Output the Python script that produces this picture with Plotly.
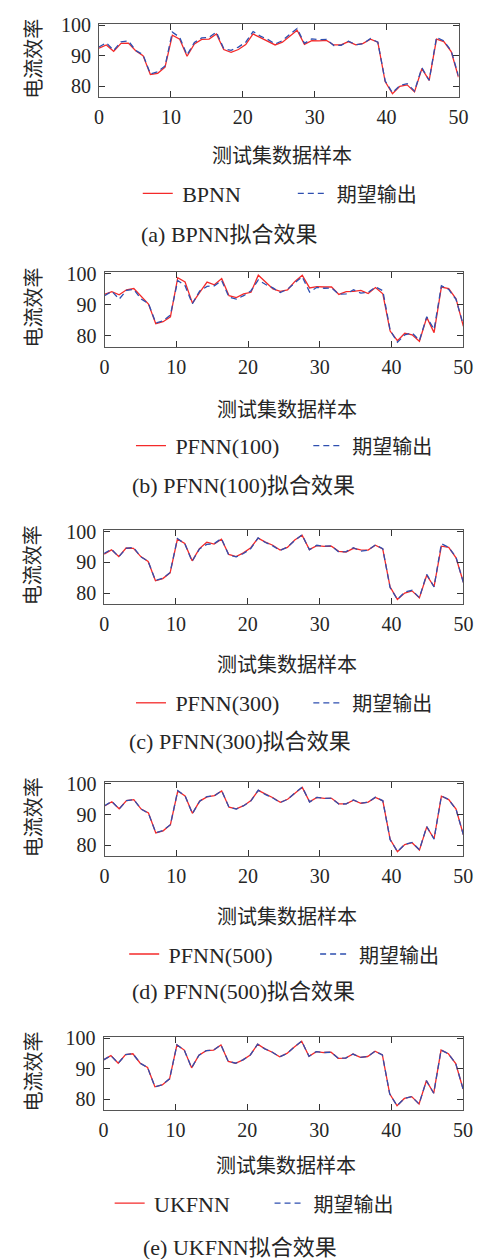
import numpy as np
import plotly.graph_objects as go

# ---------------- data ----------------
sample_x = np.linspace(0, 50, 50)  # 50 test samples plotted across 0..50

expected = [92.9, 94.3, 91.8, 94.6, 94.9, 91.8, 90.4, 84.1, 84.8, 86.7,
            97.8, 96.1, 90.3, 94.4, 95.9, 96.1, 97.8, 92.4, 91.8, 92.9,
            94.5, 98.0, 96.5, 95.4, 93.9, 95.0, 97.1, 99.0, 94.1, 95.6,
            95.3, 95.4, 93.4, 93.5, 94.8, 93.7, 94.0, 95.7, 94.5, 81.8,
            77.9, 80.3, 80.9, 78.5, 86.1, 82.0, 96.1, 94.9, 91.7, 83.4]

bpnn = [92.5, 93.6, 91.5, 94.1, 94.2, 91.7, 90.1, 83.9, 84.3, 86.3,
        96.8, 95.5, 89.9, 93.9, 95.4, 95.5, 97.2, 92.1, 91.2, 92.1,
        93.7, 97.2, 96.0, 94.9, 93.6, 94.5, 96.6, 98.4, 93.8, 95.0,
        94.9, 95.1, 93.6, 93.6, 94.7, 93.6, 94.1, 95.5, 94.5, 81.6,
        77.6, 80.0, 80.5, 78.2, 85.8, 82.0, 95.5, 94.7, 91.4, 83.0]

pfnn100 = [93.3, 94.2, 93.2, 94.8, 95.2, 92.7, 90.2, 83.9, 84.5, 86.1,
           98.7, 97.3, 90.5, 94.0, 97.3, 96.4, 98.4, 92.9, 92.3, 93.5,
           94.0, 99.5, 97.3, 95.1, 94.3, 94.8, 97.5, 99.5, 95.4, 95.8,
           95.7, 95.7, 93.3, 94.2, 94.3, 94.6, 93.6, 95.5, 93.5, 81.5,
           78.4, 80.8, 80.3, 78.2, 85.9, 81.0, 95.7, 95.2, 91.9, 83.0]

pfnn300 = [92.7, 94.1, 91.9, 94.7, 94.6, 91.9, 90.3, 84.0, 84.7, 86.6,
           97.6, 96.2, 90.5, 94.5, 96.6, 96.0, 97.6, 92.6, 91.9, 93.1,
           94.8, 97.9, 96.6, 95.6, 94.0, 94.9, 97.3, 98.9, 94.2, 95.5,
           95.2, 95.3, 93.6, 93.4, 94.6, 94.1, 94.0, 95.6, 94.4, 82.0,
           77.9, 80.0, 80.7, 78.4, 85.8, 82.1, 95.3, 94.9, 91.5, 83.5]

pfnn500 = [92.8, 94.2, 91.9, 94.6, 94.9, 91.8, 90.5, 84.0, 84.7, 86.7,
           97.7, 96.1, 90.4, 94.4, 95.8, 96.2, 97.7, 92.4, 91.9, 92.9,
           94.6, 97.9, 96.7, 95.5, 94.0, 95.0, 97.0, 98.9, 94.2, 95.6,
           95.3, 95.3, 93.5, 93.5, 94.7, 93.7, 94.1, 95.6, 94.5, 81.9,
           77.9, 80.2, 80.8, 78.4, 86.0, 82.1, 96.0, 94.9, 91.8, 83.4]

ukfnn = [92.9, 94.3, 91.8, 94.6, 94.9, 91.8, 90.4, 84.1, 84.7, 86.7,
         97.8, 96.1, 90.3, 94.4, 95.9, 96.1, 97.8, 92.4, 91.8, 92.9,
         94.5, 98.0, 96.5, 95.4, 93.9, 95.0, 97.1, 99.0, 94.1, 95.6,
         95.3, 95.4, 93.4, 93.5, 94.8, 93.7, 94.0, 95.7, 94.5, 81.8,
         77.9, 80.3, 80.9, 78.5, 86.1, 82.0, 96.1, 94.9, 91.7, 83.4]

model_names = ["BPNN", "PFNN(100)", "PFNN(300)", "PFNN(500)", "UKFNN"]
model_values = [bpnn, pfnn100, pfnn300, pfnn500, ukfnn]
captions = ["(a) BPNN拟合效果", "(b) PFNN(100)拟合效果", "(c) PFNN(300)拟合效果",
            "(d) PFNN(500)拟合效果", "(e) UKFNN拟合效果"]
expected_name = "期望输出"
x_title = "测试集数据样本"
y_title = "电流效率"
x_ticks = [0, 10, 20, 30, 40, 50]
y_ticks = [80, 90, 100]

# ---------------- layout (pixel positions) ----------------
W, H = 485, 1259
# plot frames: (left, right, top, bottom)
frames = [(97, 468, 15, 88.7),
          (102.7, 473, 265, 340),
          (102.3, 473, 525, 599),
          (102.7, 473, 779, 853),
          (101.7, 472.7, 1035, 1109)]
xtitle_y = [147, 402, 659, 913, 1164]
legend_y = [186, 440, 699, 952, 1203]
legend_red_x = [142, 135, 135, 128, 113]
legend_blue_x = [302, 318, 318, 325, 278]
caption_pos = [(232, 227), (246, 480), (243, 738), (246, 990), (242, 1247)]

RED = "#f42a2a"
BLUE = "#2e4fb0"
SERIF = "Liberation Serif, Times New Roman, Noto Sans CJK SC"
TXT = "#262626"
LEG_OFFSET = 5   # distance from legend box edge to start of the line sample


def px_x(p):
    return p / W


def px_y(p):
    return 1 - p / H


fig = go.Figure()
annotations = []
layout = dict(width=W, height=H, margin=dict(l=0, r=0, t=0, b=0),
              paper_bgcolor="white", plot_bgcolor="white", showlegend=True,
              font=dict(family=SERIF, color=TXT))

for i in range(5):
    n = "" if i == 0 else str(i + 1)
    lg_red = "legend" if i == 0 else "legend" + str(2 * i + 1)
    lg_blue = "legend" + str(2 * i + 2)
    fig.add_trace(go.Scatter(x=sample_x, y=model_values[i], mode="lines",
                             name="\u2009" + model_names[i],
                             line=dict(color=RED, width=1.3),
                             xaxis="x" + n, yaxis="y" + n, legend=lg_red))
    fig.add_trace(go.Scatter(x=sample_x, y=expected, mode="lines",
                             name='<span style="font-size:20px">\u2009' + expected_name + '</span>',
                             line=dict(color=BLUE, width=1.3, dash="6px,4px"),
                             xaxis="x" + n, yaxis="y" + n, legend=lg_blue))
    l, r, t, b = frames[i]
    axcommon = dict(showgrid=False, zeroline=False, showline=True, linecolor="#555555",
                    linewidth=1, mirror="ticks", ticks="inside", ticklen=6,
                    tickcolor="#333333", tickwidth=1.2,
                    tickfont=dict(family=SERIF, size=20, color=TXT))
    layout["xaxis" + n] = dict(axcommon, domain=[px_x(l), px_x(r)], range=[0, 50],
                               tickvals=x_ticks, anchor="y" + n, ticklabelstandoff=2)
    layout["yaxis" + n] = dict(axcommon, domain=[px_y(b), px_y(t)], range=[76.5, 100.5],
                               tickvals=y_ticks, anchor="x" + n, ticklabelstandoff=3)
    for lg, lx in ((lg_red, legend_red_x[i]), (lg_blue, legend_blue_x[i])):
        layout[lg] = dict(orientation="h", x=px_x(lx - LEG_OFFSET), y=px_y(legend_y[i]),
                          xanchor="left", yanchor="middle", bgcolor="rgba(0,0,0,0)",
                          font=dict(family=SERIF, size=22, color=TXT))
    annotations.append(dict(text=y_title, x=px_x(28), y=px_y((t + b) / 2 - 2),
                            xref="paper", yref="paper", showarrow=False, textangle=-90,
                            xanchor="center", yanchor="middle",
                            font=dict(family="Noto Sans CJK SC", size=20, color=TXT)))
    annotations.append(dict(text=x_title, x=px_x((l + r) / 2 + 3), y=px_y(xtitle_y[i]),
                            xref="paper", yref="paper", showarrow=False,
                            xanchor="center", yanchor="middle",
                            font=dict(family="Noto Sans CJK SC", size=20, color=TXT)))
    cx, cy = caption_pos[i]
    annotations.append(dict(text=captions[i], x=px_x(cx), y=px_y(cy),
                            xref="paper", yref="paper", showarrow=False,
                            xanchor="center", yanchor="middle",
                            font=dict(family=SERIF, size=22, color=TXT)))

layout["annotations"] = annotations
fig.update_layout(**layout)

# place the figure at the page's top-left corner (no default body margin)
pin_script = ("document.body.style.margin='0';"
              "var d=document.getElementById('{plot_id}');"
              "d.style.position='absolute';d.style.left='0px';d.style.top='0px';")
fig.write_html("out.html", post_script=pin_script,
               config={"displayModeBar": False})
